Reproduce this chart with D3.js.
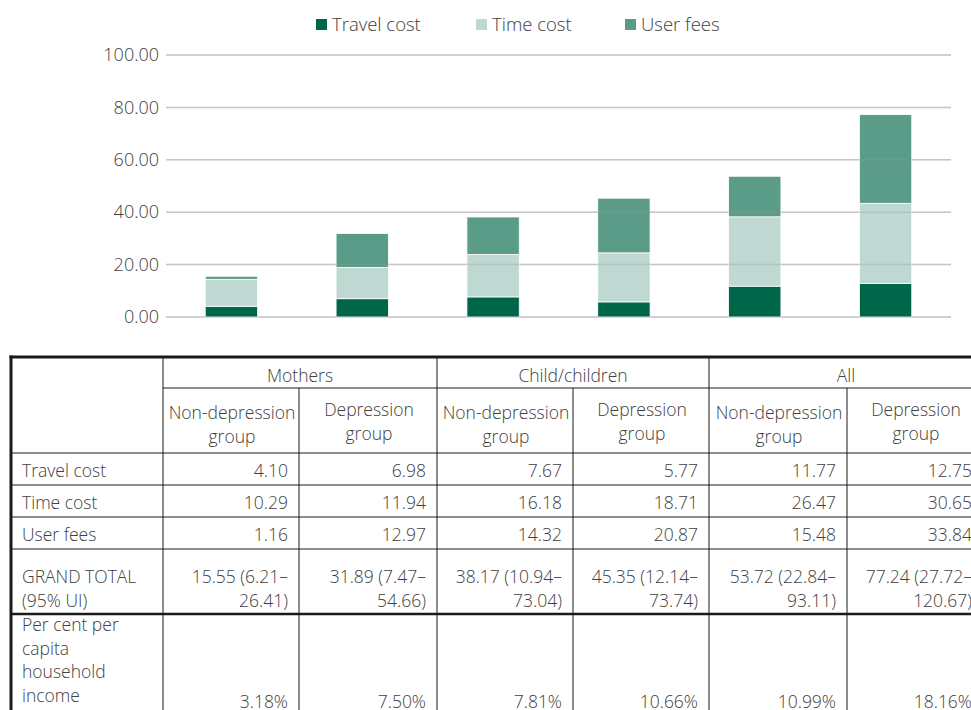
<!DOCTYPE html>
<html>
<head>
<meta charset="utf-8">
<script src="https://cdn.jsdelivr.net/npm/d3@7"></script>
<style>
  body { margin: 0; background: #fff; }
  svg text { font-family: "Open Sans", "DejaVu Sans", sans-serif; font-weight: 300; fill: #404040; }
</style>
</head>
<body>
<div id="chart"></div>
<script>
// values (table gives them exactly)
const groups = ["Mothers", "Child/children", "All"];
const subgroups = ["Non-depression group", "Depression group"];
const categories = ["M-ND", "M-D", "C-ND", "C-D", "A-ND", "A-D"];
const seriesNames = ["Travel cost", "Time cost", "User fees"];
const travelCost = [4.10, 6.98, 7.67, 5.77, 11.77, 12.75];
const timeCost = [10.29, 11.94, 16.18, 18.71, 26.47, 30.65];
const userFees = [1.16, 12.97, 14.32, 20.87, 15.48, 33.84];
const grandTotal = [15.55, 31.89, 38.17, 45.35, 53.72, 77.24];
const uiLow = [6.21, 7.47, 10.94, 12.14, 22.84, 27.72];
const uiHigh = [26.41, 54.66, 73.04, 73.74, 93.11, 120.67];
const incomeShare = ["3.18%", "7.50%", "7.81%", "10.66%", "10.99%", "18.16%"];
const yTicks = [0, 20, 40, 60, 80, 100];

var width = 971, height = 710;
var colors = ["#00664a", "#bfd9d2", "#5a9c88"];
var textColor = "#404040";

var svg = d3.select("#chart").append("svg")
    .attr("width", width)
    .attr("height", height);

// ---- chart ----
var x = d3.scaleBand().domain(categories).range([166, 951]).paddingInner(0.6).paddingOuter(0.3);
var y = d3.scaleLinear().domain([0, 100]).range([317, 55]);

var rows = categories.map((c, i) => ({
    cat: c,
    "Travel cost": travelCost[i],
    "Time cost": timeCost[i],
    "User fees": userFees[i]
}));
var stack = d3.stack().keys(seriesNames)(rows);

// grid under bars
svg.append("g").selectAll("line")
    .data(yTicks).enter().append("line")
    .attr("x1", 166).attr("x2", 951)
    .attr("y1", d => y(d)).attr("y2", d => y(d))
    .attr("stroke", "#d9d9d9").attr("stroke-width", 1.5);

svg.append("g").selectAll("g")
    .data(stack).enter().append("g")
    .attr("fill", (d, i) => colors[i])
    .selectAll("rect")
    .data(d => d).enter().append("rect")
    .attr("x", d => x(d.data.cat))
    .attr("width", x.bandwidth())
    .attr("y", d => y(d[1]))
    .attr("height", d => y(d[0]) - y(d[1]))
    .attr("stroke", "#fff")
    .attr("stroke-width", 0.8);

// grid shows faintly over the bars
svg.append("g").selectAll("line")
    .data(yTicks).enter().append("line")
    .attr("x1", 166).attr("x2", 951)
    .attr("y1", d => y(d)).attr("y2", d => y(d))
    .attr("stroke", "#999").attr("stroke-opacity", 0.3).attr("stroke-width", 1.5);

var yAxis = d3.axisLeft(y).tickValues(yTicks).tickSize(0).tickPadding(7).tickFormat(d3.format(".2f"));
svg.append("g")
    .attr("transform", "translate(166,0)")
    .call(yAxis)
    .call(g => g.select(".domain").remove())
    .selectAll("text")
    .style("font-family", "'Open Sans', sans-serif")
    .style("font-size", "18px")
    .attr("fill", textColor);

// legend
var legendX = [316, 476, 625];
var legend = svg.append("g").selectAll("g")
    .data(seriesNames).enter().append("g")
    .attr("transform", (d, i) => "translate(" + legendX[i] + ",19)");
legend.append("rect").attr("width", 11).attr("height", 11).attr("fill", (d, i) => colors[i]);
legend.append("text").attr("x", 16).attr("y", 12).style("font-size", "18.5px").text(d => d);

// ---- table ----
var colX = [11, 163, 299, 437, 573, 709, 847, 983];
var rowY = [357, 388, 453, 485, 517, 549, 614, 720];
var lineColor = "#1a1a1a";
var tbl = svg.append("g");
var fs = "17.5px";

function hline(y0, x1, x2, w) {
    tbl.append("line").attr("x1", x1).attr("x2", x2).attr("y1", y0).attr("y2", y0)
        .attr("stroke", lineColor).attr("stroke-width", w || 1);
}
function vline(x0, y1, y2, w) {
    tbl.append("line").attr("x1", x0).attr("x2", x0).attr("y1", y1).attr("y2", y2)
        .attr("stroke", lineColor).attr("stroke-width", w || 1);
}

// horizontal rules
hline(rowY[1], colX[1], width + 20);
[2, 3, 4, 5].forEach(r => hline(rowY[r], colX[0], width + 20));
hline(rowY[6], colX[0], width + 20, 2.5);
hline(rowY[0], colX[0] - 1.5, width + 20, 3);

// vertical rules
[1, 3, 5, 7].forEach(c => vline(colX[c], rowY[0], height + 10));
[2, 4, 6].forEach(c => vline(colX[c], rowY[1], height + 10));
vline(colX[0], rowY[0] - 1.5, height + 10, 3);

// group header
tbl.selectAll(".grp").data(groups).enter().append("text")
    .attr("x", (d, i) => (colX[1 + 2 * i] + colX[3 + 2 * i]) / 2)
    .attr("y", 382)
    .attr("text-anchor", "middle")
    .style("font-size", fs)
    .text(d => d);

// subgroup header
categories.forEach((c, i) => {
    var sub = subgroups[i % 2];
    var parts = sub === "Depression group" ? ["Depression", "group"] : ["Non-depression", "group"];
    var top = i % 2 === 0 ? 419 : 416;
    parts.forEach((p, k) => {
        tbl.append("text")
            .attr("x", (colX[i + 1] + colX[i + 2]) / 2 + 1)
            .attr("y", top + k * 24)
            .attr("text-anchor", "middle")
            .style("font-size", fs)
            .text(p);
    });
});

// body rows
var bodyRows = [
    { label: ["Travel cost"], vals: travelCost.map(v => [v.toFixed(2)]), y: 477 },
    { label: ["Time cost"], vals: timeCost.map(v => [v.toFixed(2)]), y: 509 },
    { label: ["User fees"], vals: userFees.map(v => [v.toFixed(2)]), y: 541 },
    { label: ["GRAND TOTAL", "(95% UI)"],
      vals: grandTotal.map((v, i) => [v.toFixed(2) + " (" + uiLow[i].toFixed(2) + "–", uiHigh[i].toFixed(2) + ")"]), y: 583 }
];
bodyRows.forEach(r => {
    r.label.forEach((l, k) => {
        tbl.append("text").attr("x", 22).attr("y", r.y + k * 23.5)
            .style("font-size", fs).text(l);
    });
    r.vals.forEach((v, i) => {
        v.forEach((t, k) => {
            tbl.append("text").attr("x", colX[i + 2] - 11).attr("y", r.y + k * 23.5)
                .attr("text-anchor", "end").style("font-size", fs).text(t);
        });
    });
});

// last row
["Per cent per", "capita", "household", "income"].forEach((l, k) => {
    tbl.append("text").attr("x", 22).attr("y", 631 + k * 23.5)
        .style("font-size", fs).text(l);
});
incomeShare.forEach((t, i) => {
    tbl.append("text").attr("x", colX[i + 2] - 11).attr("y", 708)
        .attr("text-anchor", "end").style("font-size", fs).text(t);
});
</script>
</body>
</html>
